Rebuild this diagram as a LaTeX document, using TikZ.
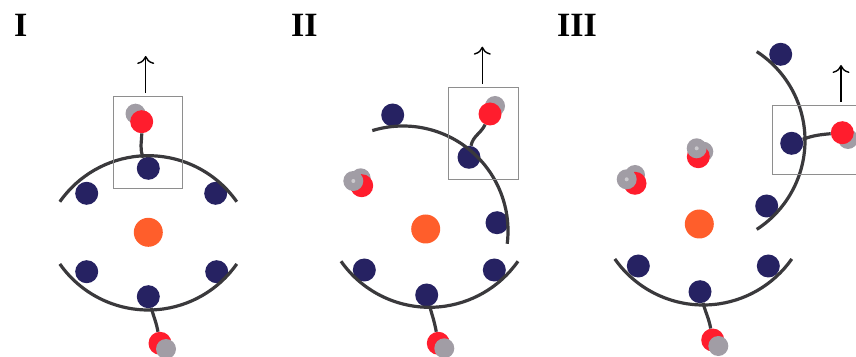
\documentclass[tikz,border=0pt]{standalone}
\usepackage{fontspec}
\setmainfont{Liberation Serif}
\usetikzlibrary{arrows.meta}
\definecolor{ioncol}{HTML}{FF5E2B}
\definecolor{sitecol}{HTML}{262262}
\definecolor{oxcol}{HTML}{FF1D2D}
\definecolor{hydcol}{HTML}{A19DA5}
\definecolor{shellcol}{HTML}{3A393C}
\definecolor{cagecol}{HTML}{8E8E8E}

\tikzset{
  cation/.style={circle, fill=ioncol, minimum size=29pt, inner sep=0pt},
  site/.style={circle, fill=sitecol, minimum size=23pt, inner sep=0pt},
  oxy/.style={circle, fill=oxcol, minimum size=23pt, inner sep=0pt},
  hyd/.style={circle, fill=hydcol, minimum size=20pt, inner sep=0pt},
  glint/.style={circle, fill=hydcol!55!white, minimum size=4pt, inner sep=0pt},
  shell/.style={draw=shellcol, line width=3.2pt},
  tether/.style={draw=shellcol, line width=3.2pt},
  cage/.style={draw=cagecol, line width=1.2pt, inner sep=0pt},
  pull/.style={-{To[length=8pt,width=17pt]}, line width=1.4pt},
  panel/.style={anchor=base west, inner sep=0pt, font=\bfseries\fontsize{34}{34}\selectfont}
}

\begin{document}
\begin{tikzpicture}[x=1pt, y=1pt]
  \useasboundingbox (0,0) rectangle (856,356);
  \clip (0,0) rectangle (856,356);

  % --- I: closed cage ---
  \node[panel] (lab1) at (14,319) {I};
  \node[cation] (ion1) at (148.3,123.7) {};
  \node[site] (s1a) at (86.7,162.7) {};
  \node[site] (s1b) at (148.3,187.7) {};
  \node[site] (s1c) at (215.7,162.7) {};
  \node[site] (s1d) at (86.7,84.3) {};
  \node[site] (s1e) at (148.3,59.3) {};
  \node[site] (s1f) at (216.7,84.3) {};
  \draw[shell] (148.3,92.3) ++(35:108) arc[start angle=35, end angle=145, radius=108];
  \draw[shell] (148.3,154) ++(215:108) arc[start angle=215, end angle=325, radius=108];
  \node[hyd] (h1a) at (135.5,242.3) {};
  \node[oxy] (o1a) at (141.7,234.3) {};
  \node[oxy] (o1b) at (160,12.7) {};
  \node[hyd] (h1b) at (166,7) {};
  \draw[tether] (s1b) to[out=115, in=-90] (o1a);
  \draw[tether] (s1e) to[out=-75, in=100] (o1b);
  \node[cage, minimum width=69pt, minimum height=92pt] (cage1) at (147.8,213.2) {};
  \coordinate (up1) at (145.7,300);
  \draw[pull, shorten <=3pt] (up1 |- cage1.north) -- (up1);

  % --- II: upper half swings open ---
  \node[panel] (lab2) at (291,319) {II};
  \node[cation] (ion2) at (425.7,127) {};
  \node[site] (s2a) at (392.7,241) {};
  \node[site] (s2b) at (469,198.7) {};
  \node[site] (s2c) at (497,133.3) {};
  \node[site] (s2d) at (364.3,86) {};
  \node[site] (s2e) at (426.7,61) {};
  \node[site] (s2f) at (494.3,86) {};
  \draw[shell] (403,125) ++(-7:105) arc[start angle=-7, end angle=107, radius=105];
  \draw[shell] (429.5,156.7) ++(215:108) arc[start angle=215, end angle=325, radius=108];
  \node[hyd] (h2a) at (495,250) {};
  \node[oxy] (o2a) at (490,242) {};
  \node[hyd] (h2b) at (360.7,177.7) {};
  \node[oxy] (o2b) at (361.7,170.3) {};
  \node[hyd] (h2c) at (353.3,175) {};
  \node[glint] (g2c) at (353.3,175) {};
  \node[oxy] (o2c) at (438.3,12.7) {};
  \node[hyd] (h2d) at (444.3,7.7) {};
  \draw[tether] (s2b) to[out=80, in=-115] (o2a);
  \draw[tether] (s2e) to[out=-75, in=100] (o2c);
  \node[cage, minimum width=70pt, minimum height=92pt] (cage2) at (483.3,222.7) {};
  \coordinate (up2) at (482.3,309.3);
  \draw[pull, shorten <=2.5pt] (up2 |- cage2.north) -- (up2);

  % --- III: upper half turned aside ---
  \node[panel] (lab3) at (557,319) {III};
  \node[cation] (ion3) at (699.3,132) {};
  \node[site] (s3a) at (780.7,301.7) {};
  \node[site] (s3b) at (791.7,212.7) {};
  \node[site] (s3c) at (766.7,150) {};
  \node[site] (s3d) at (638.3,90) {};
  \node[site] (s3e) at (700,64.3) {};
  \node[site] (s3f) at (768.3,90) {};
  \draw[shell] (699,215.5) ++(-57:106) arc[start angle=-57, end angle=57, radius=106];
  \draw[shell] (703.3,159) ++(215:108) arc[start angle=215, end angle=325, radius=108];
  \node[hyd] (h3a) at (848,217) {};
  \node[oxy] (o3a) at (842.3,223.3) {};
  \node[hyd] (h3b) at (635,181) {};
  \node[oxy] (o3b) at (635,172.7) {};
  \node[hyd] (h3c) at (626.7,176.7) {};
  \node[glint] (g3c) at (626.7,176.7) {};
  \node[hyd] (h3d) at (703.3,204.3) {};
  \node[oxy] (o3c) at (698.3,199.3) {};
  \node[hyd] (h3e) at (696.7,207.7) {};
  \node[glint] (g3e) at (696.7,207.7) {};
  \node[oxy] (o3d) at (712.7,16) {};
  \node[hyd] (h3f) at (718.3,10) {};
  \draw[tether] (s3b) to[out=20, in=185] (o3a);
  \draw[tether] (s3e) to[out=-75, in=100] (o3d);
  \node[cage, minimum width=92pt, minimum height=69pt] (cage3) at (818.7,215.7) {};
  \coordinate (up3) at (841,291);
  \draw[pull, shorten <=3pt] (up3 |- cage3.north) -- (up3);
\end{tikzpicture}
\end{document}
